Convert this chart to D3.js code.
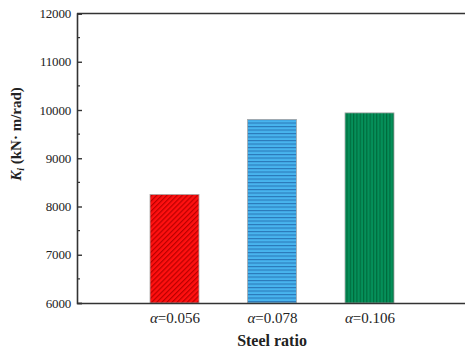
<!DOCTYPE html>
<html><head><meta charset="utf-8">
<script src="https://cdn.jsdelivr.net/npm/d3@7/dist/d3.min.js"></script>
<style>body{margin:0;background:#fff}svg{display:block}</style>
</head><body>
<script>
const categories = ["0.056", "0.078", "0.106"];
const values = [8250, 9805, 9940];
const yTicks = [6000, 7000, 8000, 9000, 10000, 11000, 12000];
const fills = ["#ff1010", "#48b4ee", "#05905a"];
const stripes = ["#b80000", "#2a78b8", "#006a3c"];

const W = 465, H = 350;
const svg = d3.select("body").append("svg").attr("width", W).attr("height", H);
const font = "'Liberation Serif','Times New Roman',serif";

const x = d3.scaleLinear().domain([0, 4]).range([77, 467]);
const y = d3.scaleLinear().domain([6000, 12000]).range([303, 13.5]);

const defs = svg.append("defs");
const p0 = defs.append("pattern").attr("id", "p0").attr("patternUnits", "userSpaceOnUse")
  .attr("width", 3.6).attr("height", 3.6).attr("patternTransform", "rotate(45)");
p0.append("rect").attr("width", 3.6).attr("height", 3.6).attr("fill", fills[0]);
p0.append("rect").attr("width", 1.2).attr("height", 3.6).attr("fill", stripes[0]);
const p1 = defs.append("pattern").attr("id", "p1").attr("patternUnits", "userSpaceOnUse")
  .attr("width", 4).attr("height", 3.5);
p1.append("rect").attr("width", 4).attr("height", 3.5).attr("fill", fills[1]);
p1.append("rect").attr("width", 4).attr("height", 1.1).attr("fill", stripes[1]);
const p2 = defs.append("pattern").attr("id", "p2").attr("patternUnits", "userSpaceOnUse")
  .attr("width", 3.3).attr("height", 4);
p2.append("rect").attr("width", 3.3).attr("height", 4).attr("fill", fills[2]);
p2.append("rect").attr("width", 1.1).attr("height", 4).attr("fill", stripes[2]);

const bw = 49;
svg.selectAll("rect.bar").data(values).enter().append("rect")
  .attr("class", "bar")
  .attr("x", (d, i) => x(i + 1) - bw / 2)
  .attr("y", d => y(d))
  .attr("width", bw)
  .attr("height", d => y(6000) - y(d))
  .attr("fill", (d, i) => `url(#p${i})`)
  .attr("stroke", "#a8a8a8").attr("stroke-width", 0.8);

const axisColor = "#333";
svg.append("line").attr("x1", x(0)).attr("x2", x(4)).attr("y1", y(12000)).attr("y2", y(12000))
  .attr("stroke", axisColor).attr("stroke-width", 1.6);

const yAxis = d3.axisLeft(y).tickValues(yTicks).tickSize(-5).tickPadding(6).tickFormat(d3.format("d"));
const gy = svg.append("g").attr("transform", `translate(${x(0)},0)`).call(yAxis);
gy.select(".domain").attr("stroke", axisColor).attr("stroke-width", 1.6);
gy.selectAll(".tick line").attr("stroke", axisColor).attr("stroke-width", 1.4);
gy.selectAll(".tick text").attr("font-family", font).attr("font-size", 13).attr("fill", "#222")
  .attr("letter-spacing", -0.2);
const minor = d3.range(6500, 12000, 1000);
gy.selectAll(".minor").data(minor).enter().append("line").attr("class", "minor")
  .attr("x1", 0).attr("x2", 3).attr("y1", d => y(d)).attr("y2", d => y(d))
  .attr("stroke", axisColor).attr("stroke-width", 1.2);

const xAxis = d3.axisBottom(x).tickValues([1, 2, 3]).tickSize(0).tickPadding(10).tickFormat(() => "");
const gx = svg.append("g").attr("transform", `translate(0,${y(6000)})`).call(xAxis);
gx.select(".domain").attr("stroke", axisColor).attr("stroke-width", 1.6);
gx.selectAll(".tick").each(function (d, i) {
  const t = d3.select(this).append("text").attr("y", 19.5).attr("text-anchor", "middle")
    .attr("font-family", font).attr("font-size", 15).attr("fill", "#222");
  t.append("tspan").attr("font-style", "italic").text("α");
  t.append("tspan").text("=" + categories[i]);
});

svg.append("text").attr("x", x(2)).attr("y", 346).attr("text-anchor", "middle")
  .attr("font-family", font).attr("font-size", 16).attr("font-weight", "bold").attr("fill", "#222")
  .text("Steel ratio");

const yl = svg.append("text").attr("transform", "translate(21,134) rotate(-90)")
  .attr("text-anchor", "middle").attr("font-family", font).attr("font-size", 15)
  .attr("font-weight", "bold").attr("fill", "#222");
yl.append("tspan").attr("font-style", "italic").text("K");
yl.append("tspan").attr("font-style", "italic").attr("font-size", 10).attr("dy", 3).text("i");
yl.append("tspan").attr("dy", -3).text(" (kN· m/rad)");
</script>
</body></html>
